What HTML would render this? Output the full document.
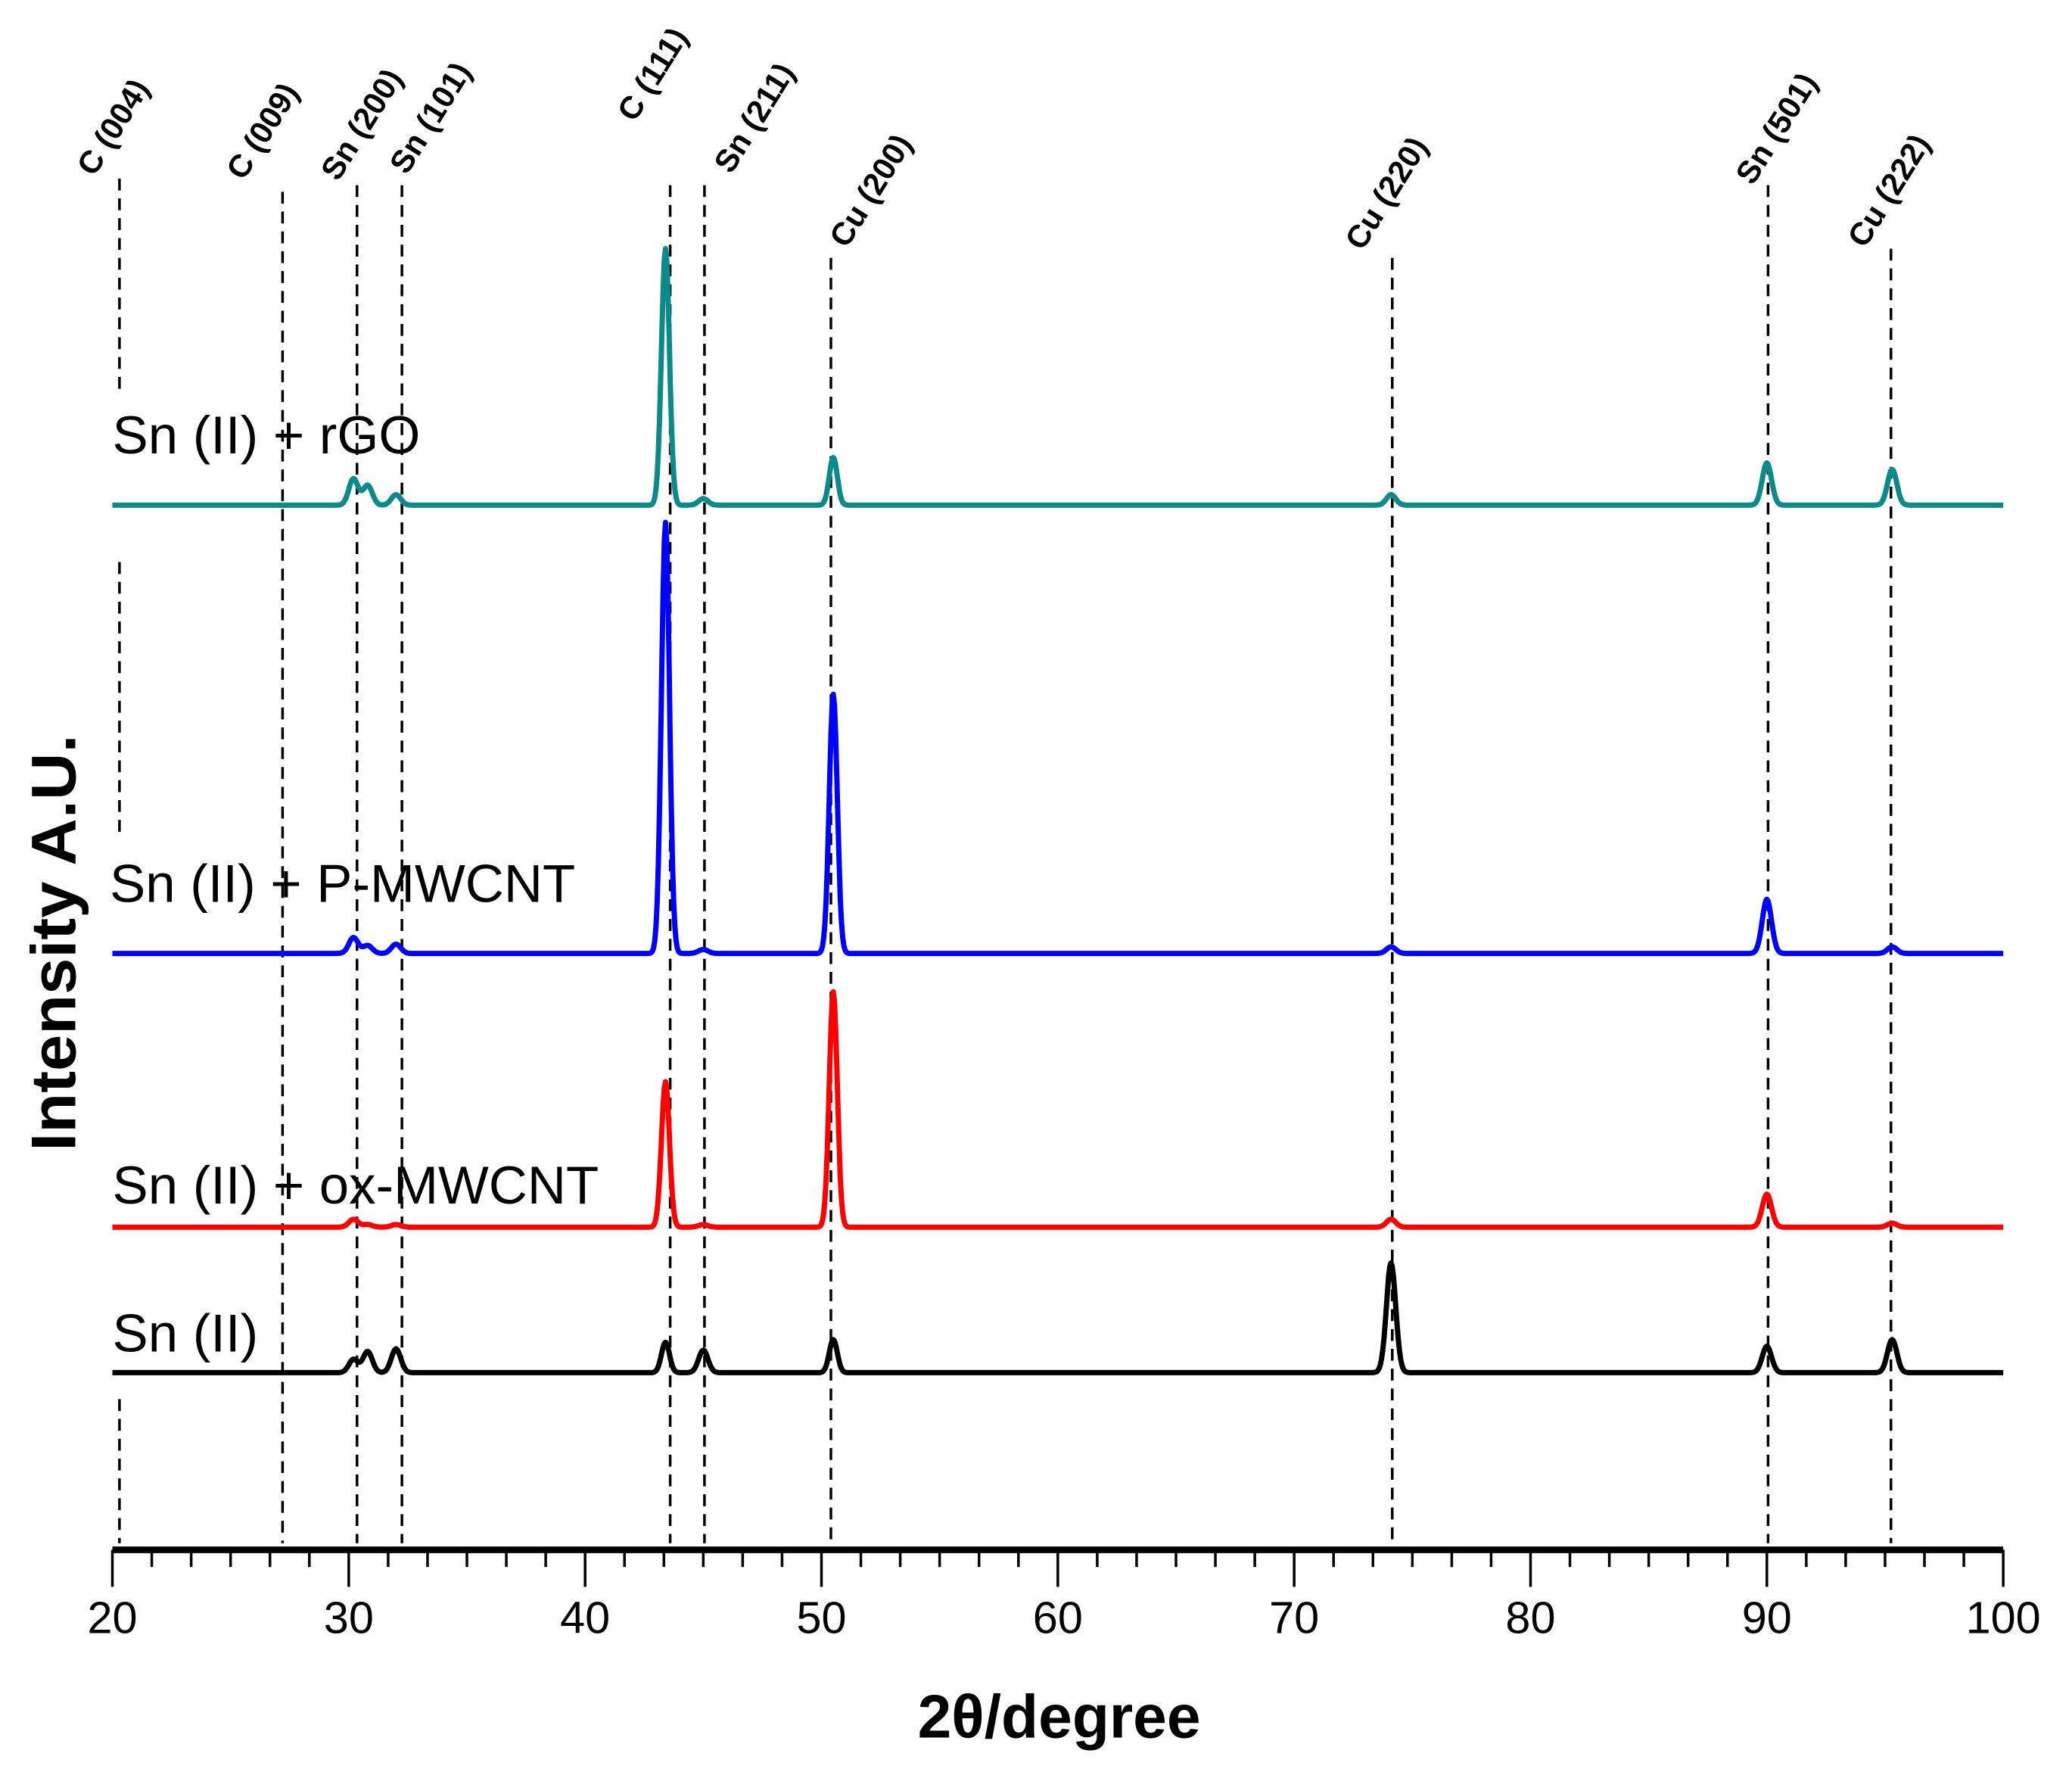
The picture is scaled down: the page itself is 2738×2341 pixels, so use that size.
<!DOCTYPE html>
<html><head><meta charset="utf-8"><style>
html,body{margin:0;padding:0;background:#fff}
svg{display:block}
text{font-family:"Liberation Sans",sans-serif}
</style></head><body>
<svg id="chart" width="2738" height="2341" viewBox="0 0 1567 1340" preserveAspectRatio="none" xmlns="http://www.w3.org/2000/svg">
<g id="refs"></g>
<g id="traces"></g>
<g id="axis"></g>
<text x="801" y="1314" font-size="46" font-weight="bold" text-anchor="middle">2θ/degree</text>
<text transform="translate(57,713) rotate(-90)" font-size="48" font-weight="bold" text-anchor="middle" textLength="315" lengthAdjust="spacingAndGlyphs">Intensity A.U.</text>
<text x="85" y="343" font-size="40.5">Sn (II) + rGO</text>
<text x="83" y="682" font-size="40.5">Sn (II) + P-MWCNT</text>
<text x="85" y="910" font-size="40.5">Sn (II) + ox-MWCNT</text>
<text x="85" y="1022" font-size="40.5">Sn (II)</text>
</svg>
<script>
const refNames=["C (004)","C (009)","Sn (200)","Sn (101)","C (111)","Sn (211)","Cu (200)","Cu (220)","Sn (501)","Cu (222)"];
const refPos=[20.3,27.2,30.35,32.25,43.6,45.05,50.4,74.15,90.05,95.25];
const refTop=[135,145,140,140,140,140,195,195,140,188];
const labelCx=[87,200,275,327,495,572,660,1050,1345,1430];
const labelCy=[97,100,95,90,57,90,145,147,98,145];
const xTicks=[20,30,40,50,60,70,80,90,100];
const seriesNames=["rGO","P-MWCNT","ox-MWCNT","Sn"];
const seriesColors=["#0b8a8a","#0000ff","#ff0000","#000000"];
const baselines=[382,721,928,1038];
const peakPos=[30.2,30.8,32.0,43.4,45.0,50.5,74.1,90.0,95.3];
const hRGO=[20,15,8,194,5,36,8,32,27];
const hPM=[12,6,7,326,3,196,5,41,5];
const hOX=[6,2,2,110,2,178,6,25,3];
const hSN=[10,16,18,23,17,25,83,20,25];
const heights=[hRGO,hPM,hOX,hSN];
const NS="http://www.w3.org/2000/svg";
const x0=85,x1=1515,axisY=1172;
function xs(v){return x0+(v-20)/80*(x1-x0);}
function mk(t,a,p){const e=document.createElementNS(NS,t);for(const k in a)e.setAttribute(k,a[k]);p.appendChild(e);return e;}
const refs=document.getElementById('refs');
refPos.forEach((p,i)=>{
  const x=xs(p);
  const segs=i===0?[[refTop[i],300],[425,630],[1058,axisY-5]]:[[refTop[i],axisY-5]];
  segs.forEach(sg=>{
    const l=mk('line',{x1:x,x2:x,y1:sg[0],y2:sg[1],stroke:'#000','stroke-width':2,'stroke-dasharray':'9,6'},refs);
    
    
  });
  const t=mk('text',{transform:`translate(${labelCx[i]},${labelCy[i]}) rotate(-58)`,'font-size':24,'font-weight':'bold','text-anchor':'middle','dominant-baseline':'middle'},refs);
  t.textContent=refNames[i];
  
  
});
const tr=document.getElementById('traces');
seriesNames.forEach((n,s)=>{
  let d='';
  for(let v=20;v<=100.001;v+=0.05){
    let y=0;
    peakPos.forEach((p,k)=>{const w=(k==3||k==5)?0.24:0.28;const dd=(v-p)/w;y+=heights[s][k]*Math.exp(-dd*dd);});
    d+=(d?'L':'M')+xs(v).toFixed(1)+','+(baselines[s]-y).toFixed(1);
  }
  const pth=mk('path',{d:d,fill:'none',stroke:seriesColors[s],'stroke-width':4,'stroke-linejoin':'round'},tr);
  
  
});
const ax=document.getElementById('axis');
const al=mk('line',{x1:x0,x2:x1,y1:axisY,y2:axisY,stroke:'#000','stroke-width':5},ax);


for(let i=0;i<=48;i++){
  const v=20+i*80/48;const x=xs(v);const major=i%6==0;
  const tk=mk('line',{x1:x,x2:x,y1:axisY,y2:axisY+(major?28:13),stroke:'#000','stroke-width':2},ax);
  
  
}
xTicks.forEach(v=>{
  const t=mk('text',{x:xs(v),y:1235,'font-size':34,'text-anchor':'middle'},ax);
  t.textContent=v;
  
  
});
</script>
</body></html>
